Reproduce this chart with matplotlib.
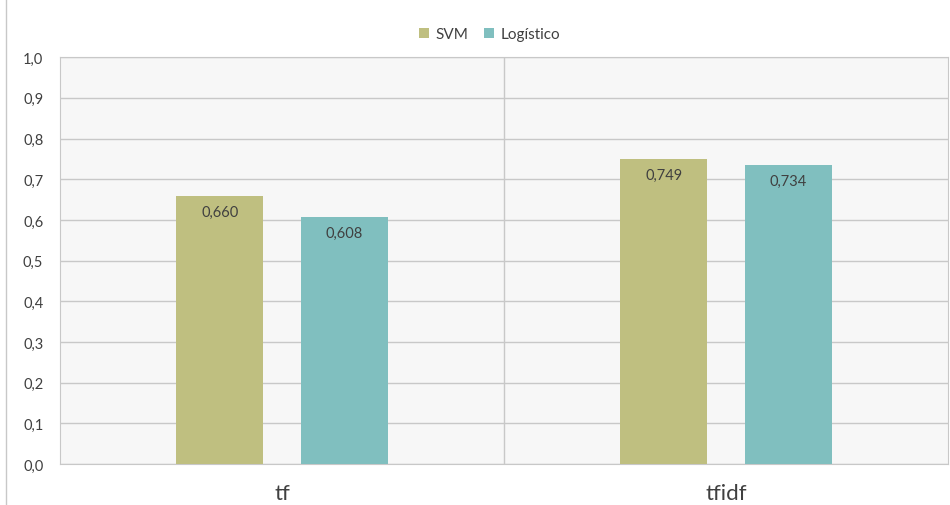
import matplotlib
matplotlib.use('Agg')
import matplotlib.pyplot as plt
from matplotlib.ticker import FuncFormatter
import numpy as np

categories = ["tf", "tfidf"]
series_names = ["SVM", "Logístico"]
svm_values = [0.660, 0.749]
log_values = [0.608, 0.734]
colors = ["#bfbf80", "#80bfbf"]

plt.rcParams['font.family'] = ['Lato', 'DejaVu Sans']
plt.rcParams['hatch.color'] = '#e2e2e2'
plt.rcParams['hatch.linewidth'] = 0.5

fig = plt.figure(figsize=(9.5, 5.06), dpi=100)
ax = fig.add_axes([0.0632, 0.081, 0.9347, 0.804])
ax.set_facecolor("#f7f7f7")

x = np.arange(len(categories))
width = 0.196
offset = 0.14
for vals, name, col, off in [(svm_values, series_names[0], colors[0], -offset),
                             (log_values, series_names[1], colors[1], offset)]:
    bars = ax.bar(x + off, vals, width, color=col, label=name, zorder=3)
    for b, v in zip(bars, vals):
        ax.text(b.get_x() + b.get_width() / 2, v - 0.022, f"{v:.3f}".replace(".", ","),
                ha="center", va="top", fontsize=10.5, color="#404040", zorder=4)

ax.set_xlim(-0.5, len(categories) - 0.5)
ax.set_ylim(0, 1.0)
ax.set_yticks(np.arange(0, 1.01, 0.1))
ax.yaxis.set_major_formatter(FuncFormatter(lambda v, p: f"{v:.1f}".replace(".", ",")))
ax.grid(axis="y", color="#c8c8c8", linewidth=1, zorder=1)
for xs in np.arange(0.5, len(categories) - 0.5, 1):
    ax.axvline(xs, color="#c8c8c8", linewidth=1, zorder=1)

ax.set_xticks(x)
ax.set_xticklabels(categories, fontsize=16, color="#404040")
ax.tick_params(axis="x", length=0, pad=14)
ax.tick_params(axis="y", length=0, labelsize=10.5, labelcolor="#404040", pad=12)
for s in ["top", "left", "right", "bottom"]:
    ax.spines[s].set_color("#c8c8c8")

fig.legend(loc="center", bbox_to_anchor=(0.515, 0.930), ncol=2, frameon=False,
           fontsize=11, handlelength=0.7, handleheight=0.7, columnspacing=1.0,
           handletextpad=0.4, labelcolor="#404040")

# outer chart border line on the left
fig.add_artist(plt.Line2D([0.006, 0.006], [0, 1], color="#c8c8c8", linewidth=1))

fig.savefig("out.png", dpi=100)
